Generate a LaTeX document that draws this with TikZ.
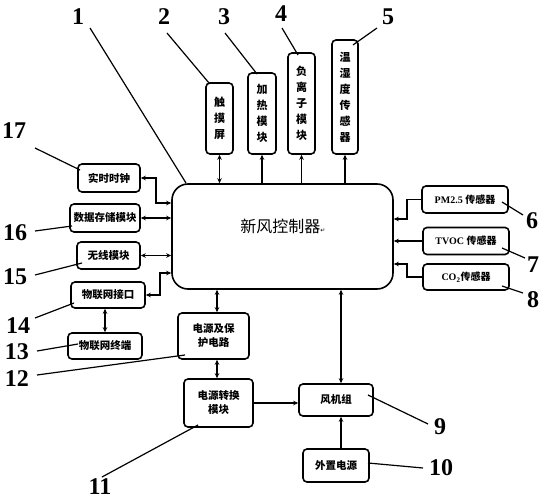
\documentclass[tikz,border=0pt]{standalone}
\usepackage{fontspec}
\setmainfont{Liberation Serif}
\newfontfamily\cjk{Noto Sans CJK SC}
\newfontfamily\djv{DejaVu Sans}
\newcommand\zh[1]{{\cjk #1}}
\usetikzlibrary{arrows.meta}
\begin{document}
\begin{tikzpicture}[x=1pt,y=-1pt,
  >={Stealth[length=5pt,width=4.5pt]},
  sz/.style 2 args={minimum width=#1pt, minimum height=#2pt},
  box/.style={draw, line width=1.6pt, rounded corners=4pt, inner sep=0pt, align=center,
    font=\cjk\bfseries\fontsize{10.5}{14}\selectfont},
  vbox/.style={box, font=\cjk\bfseries\fontsize{11}{16}\selectfont},
  sbox/.style={box, font=\bfseries\fontsize{10}{12}\selectfont},
  conn/.style={line width=1.5pt},
  num/.style={font=\bfseries\fontsize{24}{24}\selectfont, inner sep=1pt},
  leader/.style={line width=1.2pt}]
\useasboundingbox (0,0) rectangle (549,500);

% controller
\node[box, sz={221}{105}, rounded corners=16pt] (ctrl) at (282.5,236.5) {};
\node[font=\cjk\fontsize{16}{16}\selectfont, inner sep=0pt] (ctrltxt) at (283,226) {新风控制器{\djv\fontsize{6}{6}\selectfont ↵}};

% top boxes
\node[vbox, sz={27}{71}]  (touch) at (219.5,118.5) {触\\摸\\屏};
\node[vbox, sz={28}{81}]  (heat)  at (262,113.5) {加\\热\\模\\块};
\node[vbox, sz={27}{101}] (ion)   at (301.5,103.5) {负\\离\\子\\模\\块};
\node[vbox, sz={26}{114}] (th)    at (345,97) {温\\湿\\度\\传\\感\\器};

% left boxes
\node[box, sz={62}{28}] (clock)    at (109,178) {实时时钟};
\node[box, sz={70}{28}] (store)    at (105,218) {数据存储模块};
\node[box, sz={63}{27}] (wireless) at (108.5,255.5) {无线模块};
\node[box, sz={74}{26}] (iotif)    at (108,295) {物联网接口};
\node[box, sz={74}{26}] (iotterm)  at (105,346) {物联网终端};

% bottom boxes
\node[box, sz={71}{46}] (psu)  at (213.5,336) {电源及保\\护电路};
\node[box, sz={69}{48}] (conv) at (218.5,403) {电源转换\\模块};
\node[box, sz={74}{32}] (fan)  at (336,400) {风机组};
\node[box, sz={66}{33}] (ext)  at (336,465.5) {外置电源};

% right boxes
\node[sbox, sz={86}{27}] (pm)   at (465,199.5) {PM2.5 \zh{传感器}};
\node[sbox, sz={86}{27}] (tvoc) at (466,241) {TVOC \zh{传感器}};
\node[sbox, sz={86}{26}] (co2)  at (466,277) {CO\textsubscript{2}\zh{传感器}};

% top connectors
\draw[conn,<->] (touch.south) -- (touch.south |- ctrl.north);
\draw[conn,->] (ctrl.north -| heat.south) -- (heat.south);
\draw[conn,->] (ctrl.north -| ion.south) -- (ion.south);
\draw[conn,->] (ctrl.north -| th.south) -- (th.south);

% left connectors
\coordinate (ck) at (156,203);
\draw[conn,<->] (clock.east) -| (ck) -- (ck -| ctrl.west);
\draw[conn,<->] (store.east) -- (store.east -| ctrl.west);
\draw[conn,<->] (wireless.east) -- (wireless.east -| ctrl.west);
\coordinate (ik) at (160,273);
\draw[conn,<->] (iotif.east) -| (ik) -- (ik -| ctrl.west);
\draw[conn,<->] (iotterm.north) -- (iotterm.north |- iotif.south);

% right connectors
\coordinate (pk) at (407,219);
\draw[conn,->] (pm.west) -| (pk) -- (pk -| ctrl.east);
\draw[conn,->] (tvoc.west) -- (tvoc.west -| ctrl.east);
\coordinate (ok) at (407,264);
\draw[conn,->] (co2.west) -| (ok) -- (ok -| ctrl.east);

% bottom connectors
\coordinate (px) at (217,0);
\draw[conn,<->] (ctrl.south -| px) -- (psu.north -| px);
\draw[conn,<->] (psu.south -| px) -- (conv.north -| px);
\draw[conn,->] (conv.east) -- (conv.east -| fan.west);
\coordinate (fx) at (341,0);
\draw[conn,<->] (ctrl.south -| fx) -- (fan.north -| fx);
\draw[conn,->] (ext.north -| fx) -- (fan.south -| fx);

% number labels
\node[num] (n1)  at (78,17) {1};
\node[num] (n2)  at (164,17) {2};
\node[num] (n3)  at (224,17) {3};
\node[num] (n4)  at (281,14) {4};
\node[num] (n5)  at (388,17) {5};
\node[num] (n6)  at (532,221) {6};
\node[num] (n7)  at (533,265) {7};
\node[num] (n8)  at (533,300) {8};
\node[num] (n9)  at (440,427) {9};
\node[num] (n10) at (441,468) {10};
\node[num] (n11) at (100,487) {11};
\node[num] (n12) at (17,379) {12};
\node[num] (n13) at (17,352) {13};
\node[num] (n14) at (18,326) {14};
\node[num] (n15) at (15,277) {15};
\node[num] (n16) at (15,233) {16};
\node[num] (n17) at (14,131) {17};

% leader start and end points
\coordinate (s1) at (90,28);   \coordinate (e1) at (186,183);
\coordinate (s2) at (167,33);  \coordinate (e2) at (209,83);
\coordinate (s3) at (225,33);  \coordinate (e3) at (257,74);
\coordinate (s4) at (282,28);  \coordinate (e4) at (298,55);
\coordinate (s5) at (377,28);  \coordinate (e5) at (353,45);
\coordinate (s6) at (523,215); \coordinate (e6) at (502,202);
\coordinate (s7) at (525,258); \coordinate (e7) at (502,248);
\coordinate (s8) at (523,293); \coordinate (e8) at (502,286);
\coordinate (s9) at (428,424); \coordinate (e9) at (368,395);
\coordinate (s10) at (423,468); \coordinate (e10) at (368,463);
\coordinate (s11) at (102,477); \coordinate (e11) at (198,425);
\coordinate (s12) at (37,375); \coordinate (e12) at (185,355);
\coordinate (s13) at (37,351); \coordinate (e13) at (78,344);
\coordinate (s14) at (35,318); \coordinate (e14) at (74,303);
\coordinate (s15) at (35,275); \coordinate (e15) at (82,263);
\coordinate (s16) at (35,231); \coordinate (e16) at (72,226);
\coordinate (s17) at (35,148); \coordinate (e17) at (80,170);
\foreach \i in {1,...,17} { \draw[leader] (s\i) -- (e\i); }
\end{tikzpicture}
\end{document}
